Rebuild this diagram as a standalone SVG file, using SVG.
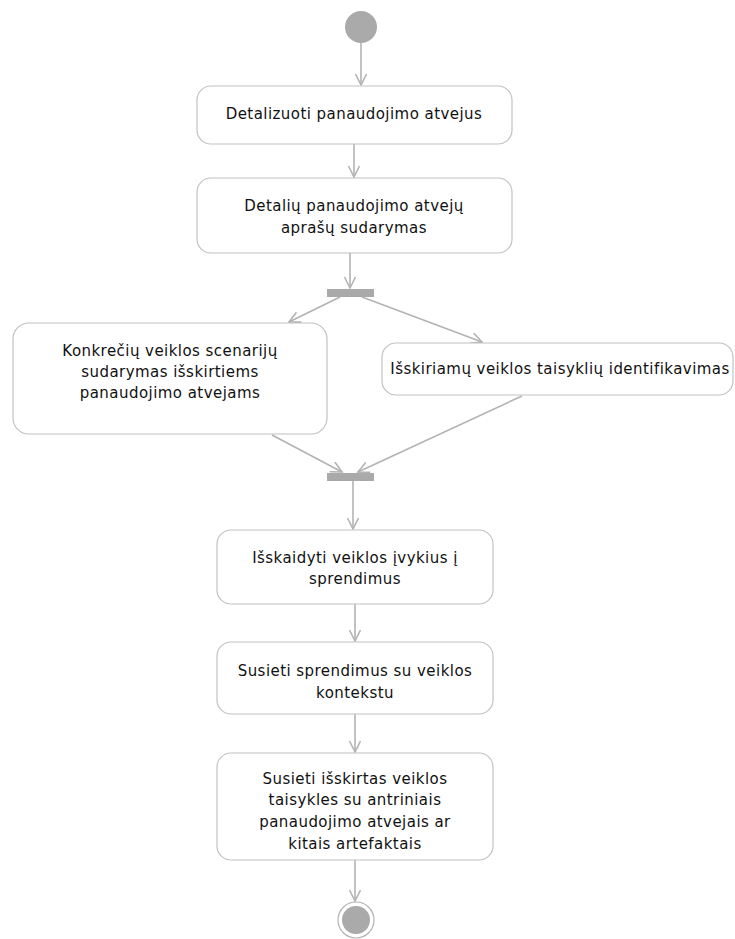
<svg xmlns="http://www.w3.org/2000/svg" width="735" height="939" viewBox="0 0 735 939">
  <style>
    .act { fill: #ffffff; stroke: #c2c2c2; stroke-width: 1.2; }
    .lbl { font-family: "DejaVu Sans", Verdana, sans-serif; font-size: 15px; letter-spacing: 0.45px; fill: #111; text-anchor: middle; }
    .flow { stroke: #b3b3b3; stroke-width: 1.6; fill: none; marker-end: url(#arrow); }
    .bar { fill: #aaaaaa; }
    .dot { fill: #aaaaaa; }
  </style>
  <defs>
    <marker id="arrow" markerUnits="userSpaceOnUse" markerWidth="14" markerHeight="14" refX="12" refY="6" orient="auto">
      <path d="M1,0.5 L12,6 L1,11.5" fill="none" stroke="#b3b3b3" stroke-width="1.6"/>
    </marker>
  </defs>

  <rect width="735" height="939" fill="#ffffff"/>

  <g id="connectors">
    <line class="flow" x1="361" y1="43" x2="361" y2="85"/>
    <line class="flow" x1="354" y1="144" x2="354" y2="177"/>
    <line class="flow" x1="350" y1="253" x2="350" y2="288"/>
    <line class="flow" x1="340" y1="297" x2="289" y2="322"/>
    <line class="flow" x1="362" y1="297" x2="482" y2="342"/>
    <line class="flow" x1="272" y1="435" x2="342" y2="472"/>
    <line class="flow" x1="522" y1="396" x2="358" y2="472"/>
    <line class="flow" x1="353" y1="481" x2="353" y2="529"/>
    <line class="flow" x1="355" y1="604" x2="355" y2="641"/>
    <line class="flow" x1="355" y1="714" x2="355" y2="752"/>
    <line class="flow" x1="355" y1="860" x2="355" y2="901"/>
  </g>

  <g id="start">
    <circle class="dot" cx="361" cy="27" r="16"/>
  </g>

  <g id="detalizuoti">
    <rect class="act" x="197" y="86" width="315" height="58" rx="14"/>
    <text class="lbl" x="354" y="119">Detalizuoti panaudojimo atvejus</text>
  </g>

  <g id="aprasu-sudarymas">
    <rect class="act" x="197" y="178" width="315" height="75" rx="14"/>
    <text class="lbl" x="354" y="211">Detalių panaudojimo atvejų</text>
    <text class="lbl" x="354" y="233">aprašų sudarymas</text>
  </g>

  <g id="fork">
    <rect class="bar" x="327" y="289" width="47" height="8"/>
  </g>

  <g id="scenarijai">
    <rect class="act" x="13" y="323" width="314" height="111" rx="16"/>
    <text class="lbl" x="170" y="356">Konkrečių veiklos scenarijų</text>
    <text class="lbl" x="170" y="377">sudarymas išskirtiems</text>
    <text class="lbl" x="170" y="398">panaudojimo atvejams</text>
  </g>

  <g id="taisykles">
    <rect class="act" x="382" y="343" width="351" height="52" rx="14"/>
    <text class="lbl" x="560" y="374">Išskiriamų veiklos taisyklių identifikavimas</text>
  </g>

  <g id="join">
    <rect class="bar" x="327" y="473" width="47" height="8"/>
  </g>

  <g id="isskaidyti">
    <rect class="act" x="217" y="530" width="276" height="74" rx="14"/>
    <text class="lbl" x="355" y="563">Išskaidyti veiklos įvykius į</text>
    <text class="lbl" x="355" y="584">sprendimus</text>
  </g>

  <g id="susieti-kontekstu">
    <rect class="act" x="217" y="642" width="276" height="72" rx="14"/>
    <text class="lbl" x="355" y="676">Susieti sprendimus su veiklos</text>
    <text class="lbl" x="355" y="698">kontekstu</text>
  </g>

  <g id="susieti-taisykles">
    <rect class="act" x="217" y="753" width="276" height="107" rx="14"/>
    <text class="lbl" x="355" y="784">Susieti išskirtas veiklos</text>
    <text class="lbl" x="355" y="805">taisykles su antriniais</text>
    <text class="lbl" x="355" y="827">panaudojimo atvejais ar</text>
    <text class="lbl" x="355" y="849">kitais artefaktais</text>
  </g>

  <g id="end">
    <circle cx="356" cy="920" r="18" fill="#ffffff" stroke="#b3b3b3" stroke-width="1.2"/>
    <circle class="dot" cx="356" cy="920" r="14"/>
  </g>
</svg>
